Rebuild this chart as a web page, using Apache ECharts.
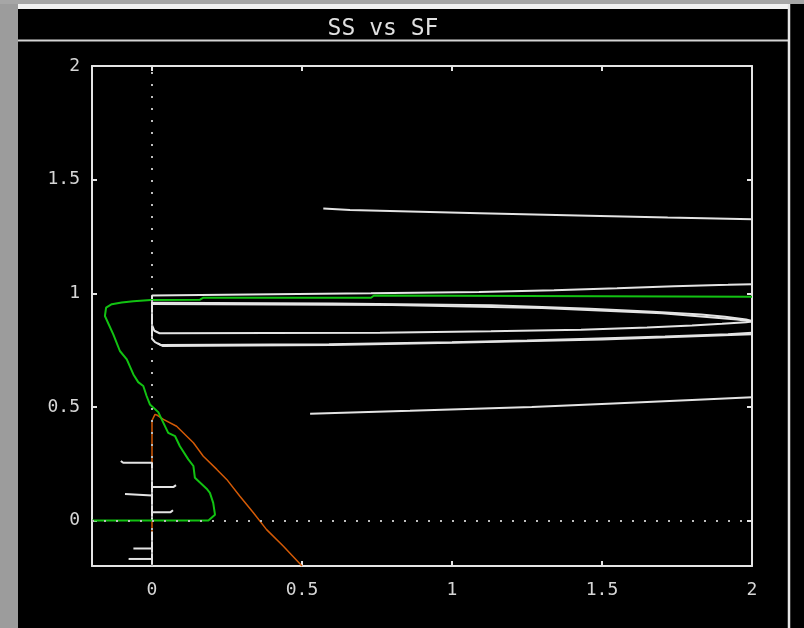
<!DOCTYPE html>
<html>
<head>
<meta charset="utf-8">
<script src="https://cdn.jsdelivr.net/npm/echarts@6/dist/echarts.min.js"></script>
<style>
  html, body { margin: 0; padding: 0; background: #000; }
  #chart { width: 804px; height: 628px; }
</style>
</head>
<body>
<div id="chart"></div>
<script>
var chart = echarts.init(document.getElementById('chart'));

var xTicks = [0, 0.5, 1, 1.5, 2];
var yTicks = [0, 0.5, 1, 1.5, 2];

// orange trajectory
var orangeLine = [
  [0, -0.2], [0, 0.44], [0.01, 0.467], [0.018, 0.463], [0.038, 0.445], [0.082, 0.415],
  [0.138, 0.342], [0.171, 0.283], [0.216, 0.225], [0.249, 0.181], [0.293, 0.107],
  [0.338, 0.034], [0.382, -0.04], [0.438, -0.113], [0.5, -0.2]
];

// green trajectory
var greenLine = [
  [-0.2, 0], [0.188, 0], [0.21, 0.026], [0.204, 0.078], [0.193, 0.122], [0.182, 0.14],
  [0.143, 0.188], [0.138, 0.24], [0.121, 0.269], [0.093, 0.327], [0.077, 0.371],
  [0.054, 0.386], [0.038, 0.43], [0.021, 0.477], [-0.007, 0.511], [-0.018, 0.548],
  [-0.029, 0.592], [-0.046, 0.609], [-0.062, 0.643], [-0.084, 0.709], [-0.107, 0.746],
  [-0.129, 0.819], [-0.157, 0.9], [-0.153, 0.937], [-0.134, 0.952], [-0.101, 0.959],
  [-0.062, 0.965], [-0.004, 0.97], [0.16, 0.972], [0.17, 0.98], [0.73, 0.98],
  [0.74, 0.99], [2, 0.985]
];

// white trajectories (each one a separate piece)
var whiteTop = [[0.571, 1.373], [0.66, 1.366], [1.093, 1.352], [1.419, 1.342], [1.719, 1.333], [2, 1.326]];
var whiteLow = [[0.527, 0.47], [0.86, 0.483], [1.266, 0.5], [1.538, 0.515], [1.8, 0.53], [2, 0.542]];
var whiteLoopA = [
  [2, 1.04], [1.92, 1.037], [1.74, 1.031], [1.55, 1.022], [1.34, 1.013], [1.09, 1.006],
  [0.73, 1.0], [0, 0.99], [0, 0.86], [0.008, 0.835], [0.025, 0.824], [0.76, 0.826],
  [1.13, 0.833], [1.43, 0.84], [1.65, 0.849], [1.8, 0.858], [1.9, 0.866], [1.98, 0.873], [2, 0.876]
];
var whiteLoopB = [
  [0, 0.958], [0.6, 0.955], [1.13, 0.947], [1.3, 0.94], [1.46, 0.932], [1.67, 0.919],
  [1.83, 0.907], [1.91, 0.897], [1.98, 0.885], [2, 0.878]
];
var whiteLoopB2 = [[0, 0.953], [0.8, 0.948], [1.3, 0.935], [1.7, 0.912], [1.95, 0.885], [2, 0.876]];
var whiteLoopC = [
  [0, 0.86], [0, 0.8], [0.01, 0.785], [0.03, 0.772], [0.59, 0.776], [1.0, 0.785],
  [1.25, 0.792], [1.46, 0.8], [1.71, 0.81], [1.92, 0.82], [2, 0.826]
];
var whiteLoopC2 = [[0.02, 0.78], [0.035, 0.768], [0.6, 0.772], [1.0, 0.782], [1.5, 0.797], [2, 0.82]];
var whiteStems = [
  [[-0.104, 0.262], [-0.096, 0.254], [0, 0.254], [0, 0.0]],
  [[0, 0.148], [0.072, 0.148], [0.08, 0.156]],
  [[-0.09, 0.117], [-0.084, 0.11], [0, 0.11]],
  [[0, 0.037], [0.062, 0.037], [0.07, 0.045]],
  [[0, -0.048], [0, -0.2]],
  [[-0.062, -0.123], [0, -0.123]],
  [[-0.078, -0.169], [0, -0.169]]
];

var fg = '#e4e4e4';
var labelFont = 'DejaVu Sans Mono';

function lineSeries(data, color, width) {
  return {
    type: 'line',
    data: data,
    symbol: 'none',
    silent: true,
    animation: false,
    lineStyle: { color: color, width: width }
  };
}

var series = [];
var orange = lineSeries(orangeLine, '#d35a06', 1.5);
orange.markLine = {
  silent: true,
  symbol: 'none',
  label: { show: false },
  lineStyle: { color: '#bdbdbd', width: 2, type: [2, 10] },
  data: [{ xAxis: 0 }, { yAxis: 0 }]
};
series.push(orange);
[whiteTop, whiteLow, whiteLoopA, whiteLoopB, whiteLoopB2, whiteLoopC, whiteLoopC2].forEach(function (d) {
  series.push(lineSeries(d, fg, 2));
});
whiteStems.forEach(function (d) {
  series.push(lineSeries(d, fg, 2));
});
series.push(lineSeries(greenLine, '#12c212', 2));

function axisBase(pos, labels) {
  return {
    type: 'value',
    position: pos,
    min: -0.2,
    max: 2,
    axisLine: { show: true, onZero: false, lineStyle: { color: fg, width: 2 } },
    axisTick: {
      show: true,
      inside: true,
      length: 5,
      customValues: (pos == 'left' || pos == 'right') ? yTicks : xTicks,
      lineStyle: { color: fg, width: 2 }
    },
    axisLabel: {
      show: labels,
      customValues: (pos == 'left' || pos == 'right') ? yTicks : xTicks,
      color: '#d6d6d6',
      fontFamily: labelFont,
      fontSize: 18,
      margin: pos == 'left' ? 12 : 15
    },
    splitLine: { show: false }
  };
}

chart.setOption({
  backgroundColor: '#000',
  animation: false,
  title: {
    text: 'SS vs SF',
    left: 378,
    top: 13,
    textAlign: 'center',
    textStyle: {
      color: '#e0e0e0',
      fontFamily: labelFont,
      fontWeight: 'normal',
      fontSize: 23
    }
  },
  graphic: [
    { type: 'rect', shape: { x: 0, y: 0, width: 18, height: 628 }, style: { fill: '#9c9c9c' } },
    { type: 'rect', shape: { x: 0, y: 0, width: 804, height: 4 }, style: { fill: '#a6a6a6' } },
    { type: 'rect', shape: { x: 18, y: 4, width: 772, height: 5 }, style: { fill: '#f2f2f2' } },
    { type: 'line', shape: { x1: 18, y1: 40.5, x2: 789, y2: 40.5 }, style: { stroke: '#d4d4d4', lineWidth: 2 } },
    { type: 'line', shape: { x1: 789, y1: 4, x2: 789, y2: 628 }, style: { stroke: '#e6e6e6', lineWidth: 2.5 } }
  ],
  grid: { left: 92, right: 52, top: 66, bottom: 62 },
  xAxis: [axisBase('bottom', true), axisBase('top', false)],
  yAxis: [axisBase('left', true), axisBase('right', false)],
  series: series
});
</script>
</body>
</html>
